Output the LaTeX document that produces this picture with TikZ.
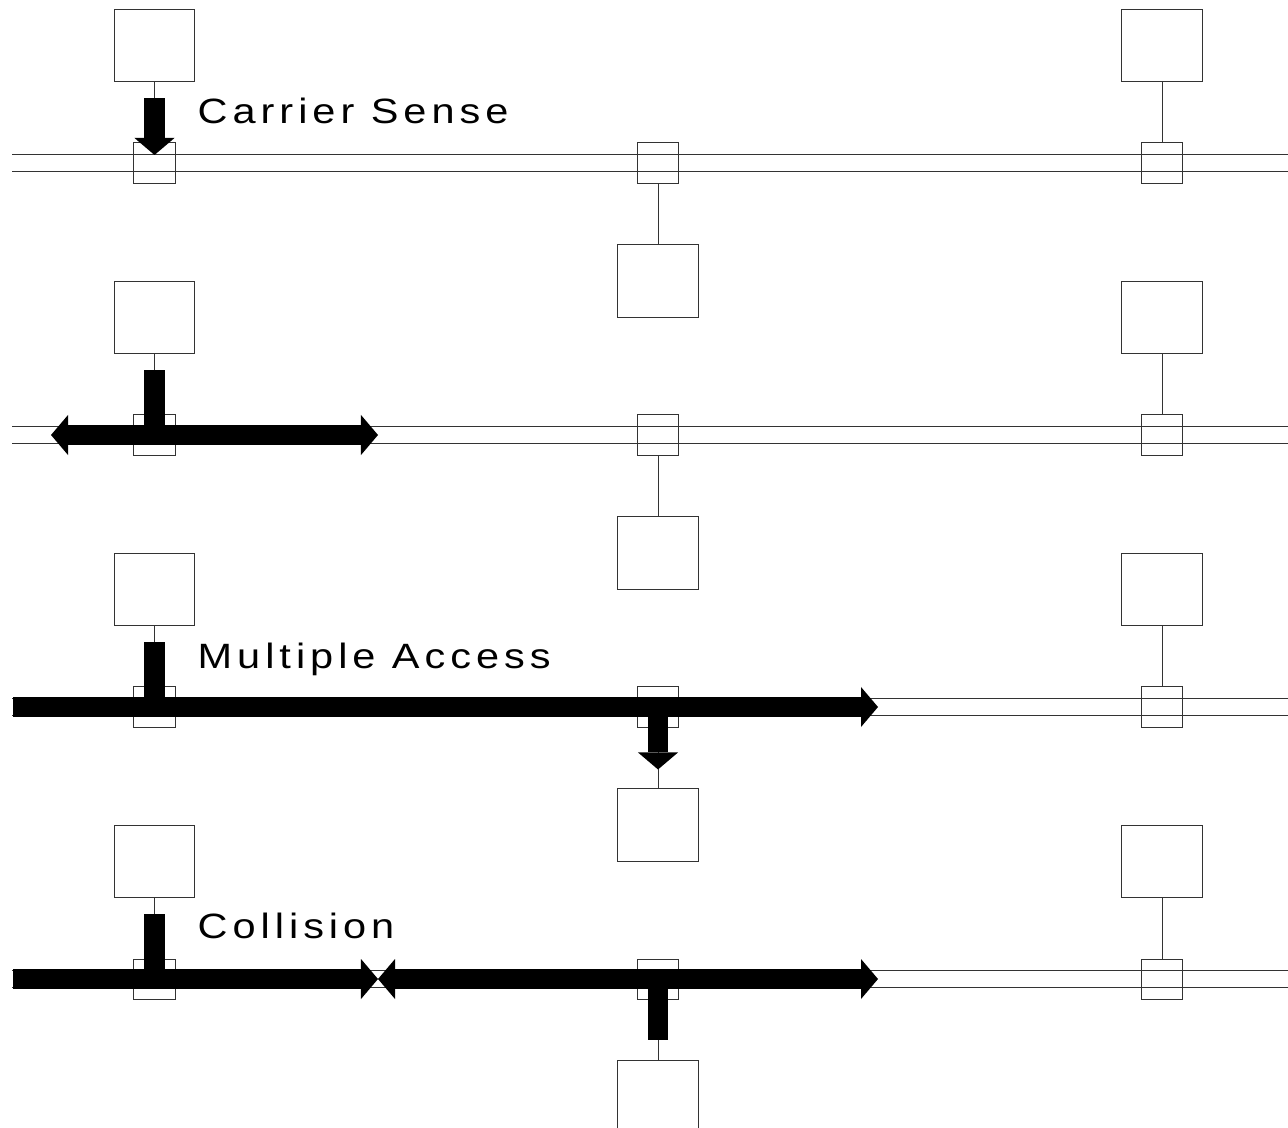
\documentclass[tikz,border=0pt]{standalone}
\usepackage{fontspec}
\newfontfamily\labelfont[LetterSpace=12]{Liberation Sans}
\usetikzlibrary{arrows.meta}

\newcommand{\widetext}[1]{\scalebox{1.18}[1]{#1}}

\begin{document}
\begin{tikzpicture}[
  x=0.01cm, y=-0.01cm,
  wire/.style={draw=black!80, line width=0.01cm},
  bus/.style={draw=black!80, line width=0.01cm, double=white, double distance=0.16cm},
  station/.style={wire, rectangle, fill=white, minimum width=0.8cm, minimum height=0.72cm, inner sep=0pt},
  tap/.style={wire, rectangle, minimum width=0.41cm, minimum height=0.4cm, inner sep=0pt},
  bar/.style={line width=0.2cm},
  pulse/.style={bar, -{Triangle[width=0.4cm, length=0.17cm, line width=0pt]}},
  twoway/.style={bar, {Triangle[width=0.4cm, length=0.17cm, line width=0pt]}-{Triangle[width=0.4cm, length=0.17cm, line width=0pt]}},
  caption/.style={anchor=base west, inner sep=0pt, font=\labelfont\fontsize{10}{12}\selectfont}
  ]

  \useasboundingbox (0,0) rectangle (1288,1127);

  % four copies of the same segment, one per step
  \foreach \r/\y in {1/163, 2/435, 3/707, 4/979} {
    \coordinate (w\r) at (12,\y);
    \coordinate (e\r) at (1288,\y);
    \draw[bus] (w\r) -- (e\r);

    \node[tap] (tapL\r) at (154.5,\y) {};
    \node[tap] (tapM\r) at (658,\y) {};
    \node[tap] (tapR\r) at (1162,\y) {};

    \node[station] (top\r) at (154.5,\y-117.5) {};
    \node[station] (bot\r) at (658,\y+118) {};
    \node[station] (far\r) at (1162,\y-117.5) {};

    \draw[wire] (top\r.south) -- (tapL\r.north);
    \draw[wire] (tapM\r.south) -- (bot\r.north);
    \draw[wire] (far\r.south) -- (tapR\r.north);
  }

  % carrier sense
  \draw[pulse] ([yshift=-0.16cm]top1.south) -- ([yshift=0.08cm]tapL1.center);
  \node[caption] (cs) at (197,123) {\widetext{Carrier Sense}};

  % sending
  \coordinate (lft2) at (51,435);
  \coordinate (rgt2) at (378,435);
  \draw[bar] ([yshift=-0.16cm]top2.south) -- (tapL2.center);
  \draw[twoway] (lft2) -- (rgt2);

  % multiple access
  \coordinate (w3b) at (13,707);
  \coordinate (rgt3) at (878,707);
  \draw[bar] ([yshift=-0.16cm]top3.south) -- (tapL3.center);
  \draw[pulse] (w3b) -- (rgt3);
  \draw[pulse] (tapM3.center) -- ([yshift=0.19cm]bot3.north);
  \node[caption] (ma) at (197,668) {\widetext{Multiple Access}};

  % collision
  \coordinate (w4b) at (13,979);
  \coordinate (clash) at (378,979);
  \coordinate (rgt4) at (878,979);
  \draw[bar] ([yshift=-0.16cm]top4.south) -- (tapL4.center);
  \draw[pulse] (w4b) -- (clash);
  \draw[twoway] (clash) -- (rgt4);
  \draw[bar] (tapM4.center) -- ([yshift=0.2cm]bot4.north);
  \node[caption] (co) at (197,938) {\widetext{Collision}};

\end{tikzpicture}
\end{document}
